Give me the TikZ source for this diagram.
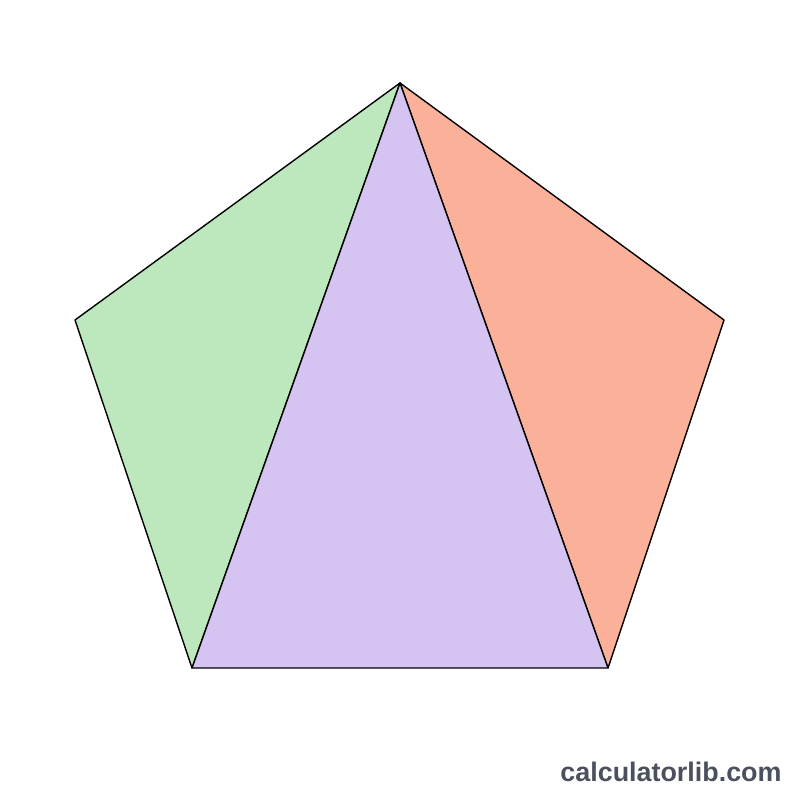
\documentclass[tikz,border=0pt]{standalone}
\usepackage{fontspec}
\setsansfont{Liberation Sans}
\definecolor{leftgreen}{HTML}{BDE8BD}
\definecolor{midpurple}{HTML}{D5C3F1}
\definecolor{rightsalmon}{HTML}{FBB199}
\definecolor{brandgray}{HTML}{4A505E}
\begin{document}
\begin{tikzpicture}[x=0.02cm,y=-0.02cm]
  % Canvas
  \useasboundingbox (0,0) rectangle (800,800);

  % Pentagon vertices
  \coordinate (top) at (400,83);
  \coordinate (left) at (75,320);
  \coordinate (right) at (724,320);
  \coordinate (botleft) at (192,668);
  \coordinate (botright) at (608,668);

  % Three triangles
  \filldraw[fill=leftgreen,draw=black,line width=0.8pt,line join=round] (top) -- (left) -- (botleft) -- cycle;
  \filldraw[fill=rightsalmon,draw=black,line width=0.8pt,line join=round] (top) -- (right) -- (botright) -- cycle;
  \filldraw[fill=midpurple,draw=black,line width=0.8pt,line join=round] (top) -- (botleft) -- (botright) -- cycle;

  % Watermark
  \node[anchor=base,text=brandgray,font=\sffamily\bfseries\fontsize{15.3}{18}\selectfont] (brand) at (671,781) {calculatorlib.com};
\end{tikzpicture}
\end{document}
